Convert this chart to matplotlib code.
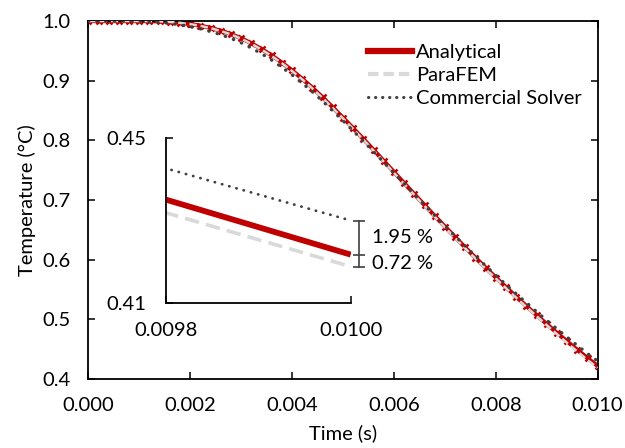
import numpy as np
from matplotlib import pyplot as plt
from matplotlib.lines import Line2D
from matplotlib.transforms import blended_transform_factory

plt.rcParams["font.family"] = ["Lato", "DejaVu Sans"]
plt.rcParams["font.size"] = 14.5

# time steps every 0.0002 s
time = np.round(np.arange(0, 51) * 0.0002, 4)

analytical = [1.0000, 1.0000, 1.0000, 1.0000, 1.0000, 1.0000, 0.9999, 0.9995, 0.9986, 0.9971,
              0.9950, 0.9922, 0.9885, 0.9839, 0.9782, 0.9712, 0.9627, 0.9532, 0.9424, 0.9304,
              0.9173, 0.9032, 0.8882, 0.8720, 0.8553, 0.8380, 0.8204, 0.8024, 0.7841, 0.7656,
              0.7470, 0.7284, 0.7099, 0.6916, 0.6735, 0.6556, 0.6379, 0.6205, 0.6034, 0.5866,
              0.5701, 0.5539, 0.5380, 0.5224, 0.5071, 0.4921, 0.4774, 0.4630, 0.4489, 0.4351,
              0.4217]
parafem = [1.0000, 1.0000, 1.0000, 1.0000, 1.0000, 1.0000, 0.9999, 0.9995, 0.9986, 0.9970,
           0.9948, 0.9919, 0.9881, 0.9834, 0.9776, 0.9705, 0.9619, 0.9523, 0.9414, 0.9294,
           0.9162, 0.9021, 0.8870, 0.8708, 0.8541, 0.8368, 0.8191, 0.8011, 0.7828, 0.7642,
           0.7456, 0.7270, 0.7085, 0.6901, 0.6720, 0.6541, 0.6364, 0.6189, 0.6018, 0.5850,
           0.5685, 0.5523, 0.5364, 0.5208, 0.5054, 0.4902, 0.4752, 0.4605, 0.4461, 0.4319,
           0.4188]
commercial = [1.0000, 1.0000, 1.0000, 1.0000, 1.0000, 0.9997, 0.9991, 0.9980, 0.9962, 0.9937,
              0.9906, 0.9869, 0.9824, 0.9772, 0.9710, 0.9636, 0.9549, 0.9453, 0.9345, 0.9226,
              0.9097, 0.8959, 0.8813, 0.8656, 0.8495, 0.8328, 0.8159, 0.7986, 0.7810, 0.7632,
              0.7453, 0.7274, 0.7095, 0.6918, 0.6743, 0.6569, 0.6397, 0.6228, 0.6062, 0.5899,
              0.5739, 0.5582, 0.5428, 0.5277, 0.5129, 0.4983, 0.4840, 0.4700, 0.4562, 0.4427,
              0.4300]

labels = ["Analytical", "ParaFEM", "Commercial Solver"]
diff_labels = ["1.95 %", "0.72 %"]

red = "#C00000"
grey = "#D9D9D9"
dark = "#404040"

fig = plt.figure(figsize=(6.25, 4.48), dpi=100)
ax = fig.add_axes([0.1413, 0.154, 0.815, 0.799])

ax.plot(time, analytical, color=red, lw=3.0, marker="x", ms=4.5, mew=1.8, zorder=2)
ax.plot(time, parafem, color=grey, lw=1.8, dashes=(3, 1.5), zorder=3)
ax.plot(time, commercial, color=dark, lw=2.4, dashes=(0.1, 2.5), dash_capstyle="round", zorder=4)

ax.set_xlim(0, 0.01)
ax.set_ylim(0.4, 1.0)
ax.set_xticks(np.arange(0, 0.0101, 0.002))
ax.set_yticks(np.arange(0.4, 1.01, 0.1))
ax.xaxis.set_major_formatter(plt.FormatStrFormatter("%.3f"))
ax.yaxis.set_major_formatter(plt.FormatStrFormatter("%.1f"))
ax.tick_params(direction="in", top=True, right=True, length=5, width=1.1, pad=13)
for s in ax.spines.values():
    s.set_linewidth(1.3)
ax.set_xlabel("Time (s)", labelpad=7)
ax.set_ylabel("Temperature (°C)", labelpad=4)

handles = [Line2D([], [], color=red, lw=4.5),
           Line2D([], [], color=grey, lw=3, dashes=(2.5, 1.2)),
           Line2D([], [], color=dark, lw=2.2, dashes=(0.1, 2.2), dash_capstyle="round")]
fig.legend(handles, labels, loc="upper left", bbox_to_anchor=(358 / 625, 1 - 34 / 448),
           frameon=False, borderpad=0, handlelength=2.2, handletextpad=0.2, labelspacing=0.3)

# inset
axi = fig.add_axes([0.2651, 0.3243, 0.296, 0.367])
axi.set_facecolor("none")
axi.plot(time, analytical, color=red, lw=4.2, solid_capstyle="butt")
axi.plot(time, parafem, color=grey, lw=2.6, dashes=(4, 2))
axi.plot(time, commercial, color=dark, lw=2.0, dashes=(0.1, 2.6), dash_capstyle="round")
axi.set_xlim(0.0098, 0.0100)
axi.set_ylim(0.41, 0.45)
axi.set_xticks([0.0098, 0.0100])
axi.set_yticks([0.41, 0.45])
axi.xaxis.set_major_formatter(plt.FormatStrFormatter("%.4f"))
axi.yaxis.set_major_formatter(plt.FormatStrFormatter("%.2f"))
axi.tick_params(direction="in", length=5, width=1.1, pad=14)
axi.spines["top"].set_visible(False)
axi.spines["right"].set_visible(False)
for s in ["left", "bottom"]:
    axi.spines[s].set_linewidth(1.3)

# difference bracket at the last time step
tr = blended_transform_factory(axi.transAxes, axi.transData)
bx = 1.045
y_c, y_a, y_p = commercial[-1], analytical[-1], parafem[-1]
axi.plot([bx, bx], [y_c, y_p], color=dark, lw=1.2, transform=tr, clip_on=False)
axi.plot([bx] * 3, [y_c, y_a, y_p], ls="none", marker="_", ms=9, mew=1.2, color=dark,
         transform=tr, clip_on=False)
axi.text(bx + 0.07, (y_c + y_a) / 2, diff_labels[0], transform=tr, va="center", ha="left")
axi.text(bx + 0.07, (y_a + y_p) / 2 - 0.0008, diff_labels[1], transform=tr, va="center", ha="left")

fig.savefig("out.png", dpi=100)
